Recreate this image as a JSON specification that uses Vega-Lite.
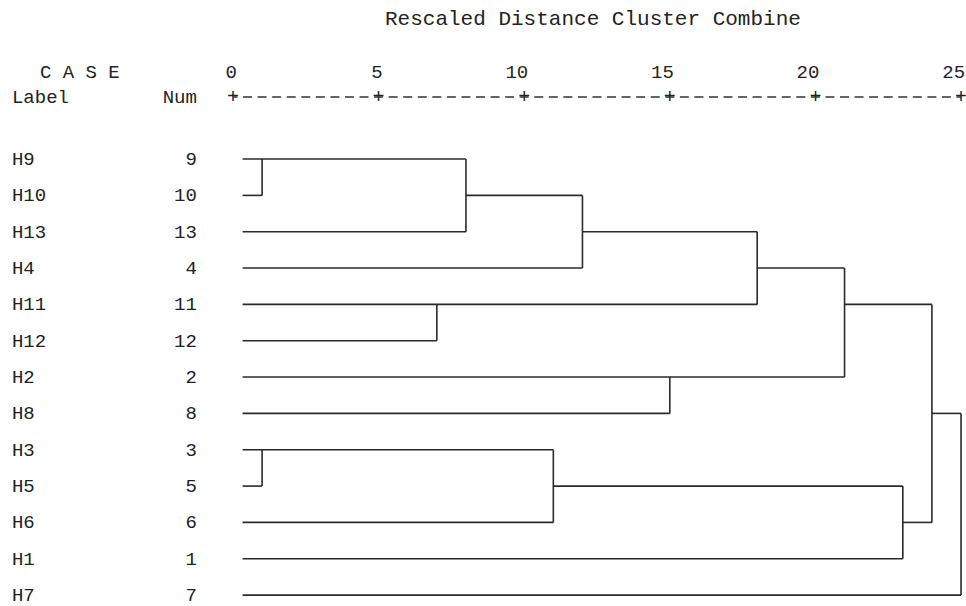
{
  "$schema": "https://vega.github.io/schema/vega-lite/v6.json",
  "width": 966,
  "height": 606,
  "autosize": "none",
  "padding": 0,
  "background": "white",
  "config": {"view": {"stroke": null}},
  "datasets": {
    "segments": [
      {"x": 0.33, "x2": 8, "y": 0, "y2": 0},
      {"x": 0.33, "x2": 1, "y": 1, "y2": 1},
      {"x": 0.33, "x2": 8, "y": 2, "y2": 2},
      {"x": 8, "x2": 12, "y": 1, "y2": 1},
      {"x": 0.33, "x2": 12, "y": 3, "y2": 3},
      {"x": 12, "x2": 18, "y": 2, "y2": 2},
      {"x": 0.33, "x2": 18, "y": 4, "y2": 4},
      {"x": 0.33, "x2": 7, "y": 5, "y2": 5},
      {"x": 18, "x2": 21, "y": 3, "y2": 3},
      {"x": 0.33, "x2": 21, "y": 6, "y2": 6},
      {"x": 0.33, "x2": 15, "y": 7, "y2": 7},
      {"x": 21, "x2": 24, "y": 4, "y2": 4},
      {"x": 0.33, "x2": 11, "y": 8, "y2": 8},
      {"x": 0.33, "x2": 1, "y": 9, "y2": 9},
      {"x": 0.33, "x2": 11, "y": 10, "y2": 10},
      {"x": 11, "x2": 23, "y": 9, "y2": 9},
      {"x": 0.33, "x2": 23, "y": 11, "y2": 11},
      {"x": 23, "x2": 24, "y": 10, "y2": 10},
      {"x": 24, "x2": 25, "y": 7, "y2": 7},
      {"x": 0.33, "x2": 25, "y": 12, "y2": 12},
      {"x": 1, "x2": 1, "y": 0, "y2": 1},
      {"x": 8, "x2": 8, "y": 0, "y2": 2},
      {"x": 12, "x2": 12, "y": 1, "y2": 3},
      {"x": 7, "x2": 7, "y": 4, "y2": 5},
      {"x": 18, "x2": 18, "y": 2, "y2": 4},
      {"x": 15, "x2": 15, "y": 6, "y2": 7},
      {"x": 21, "x2": 21, "y": 3, "y2": 6},
      {"x": 1, "x2": 1, "y": 8, "y2": 9},
      {"x": 11, "x2": 11, "y": 8, "y2": 10},
      {"x": 23, "x2": 23, "y": 9, "y2": 11},
      {"x": 24, "x2": 24, "y": 4, "y2": 10},
      {"x": 25, "x2": 25, "y": 7, "y2": 12}
    ],
    "cases": [
      {"label": "H9", "num": "9", "row": 0},
      {"label": "H10", "num": "10", "row": 1},
      {"label": "H13", "num": "13", "row": 2},
      {"label": "H4", "num": "4", "row": 3},
      {"label": "H11", "num": "11", "row": 4},
      {"label": "H12", "num": "12", "row": 5},
      {"label": "H2", "num": "2", "row": 6},
      {"label": "H8", "num": "8", "row": 7},
      {"label": "H3", "num": "3", "row": 8},
      {"label": "H5", "num": "5", "row": 9},
      {"label": "H6", "num": "6", "row": 10},
      {"label": "H1", "num": "1", "row": 11},
      {"label": "H7", "num": "7", "row": 12}
    ],
    "ticks": [
      {"t": 0, "lab": "0"},
      {"t": 5, "lab": "5"},
      {"t": 10, "lab": "10"},
      {"t": 15, "lab": "15"},
      {"t": 20, "lab": "20"},
      {"t": 25, "lab": "25"}
    ]
  },
  "layer": [
    {
      "data": {"name": "segments"},
      "mark": {"type": "rule", "color": "#2a2a2a", "strokeWidth": 1.6},
      "encoding": {
        "x": {"field": "x", "type": "quantitative", "scale": {"domain": [-8.0, 25.17], "nice": false, "zero": false}, "axis": null},
        "x2": {"field": "x2"},
        "y": {"field": "y", "type": "quantitative", "scale": {"domain": [-4.377, 12.30], "nice": false, "zero": false, "reverse": true}, "axis": null},
        "y2": {"field": "y2"}
      }
    },
    {
      "data": {"name": "cases"},
      "mark": {"type": "text", "align": "left", "baseline": "middle", "font": "Liberation Mono", "fontSize": 19, "color": "#222"},
      "encoding": {
        "x": {"datum": -7.59, "type": "quantitative"},
        "y": {"field": "row", "type": "quantitative"},
        "text": {"field": "label"}
      }
    },
    {
      "data": {"name": "cases"},
      "mark": {"type": "text", "align": "right", "baseline": "middle", "font": "Liberation Mono", "fontSize": 19, "color": "#222"},
      "encoding": {
        "x": {"datum": -1.24, "type": "quantitative"},
        "y": {"field": "row", "type": "quantitative"},
        "text": {"field": "num"}
      }
    },
    {
      "data": {"name": "ticks"},
      "mark": {"type": "text", "align": "right", "baseline": "middle", "dx": 4, "font": "Liberation Mono", "fontSize": 19, "color": "#222"},
      "encoding": {
        "x": {"field": "t", "type": "quantitative"},
        "y": {"datum": -2.395, "type": "quantitative"},
        "text": {"field": "lab"}
      }
    },
    {
      "data": {"name": "ticks"},
      "mark": {"type": "text", "align": "center", "baseline": "middle", "font": "Liberation Mono", "fontSize": 20, "color": "#222"},
      "encoding": {
        "x": {"field": "t", "type": "quantitative"},
        "y": {"datum": -1.707, "type": "quantitative"},
        "text": {"value": "+"}
      }
    },
    {
      "data": {"values": [{}]},
      "mark": {"type": "rule", "color": "#333", "strokeWidth": 1.3, "strokeDash": [9, 5.56], "strokeDashOffset": 4.5},
      "encoding": {
        "x": {"datum": 0, "type": "quantitative"},
        "x2": {"datum": 25},
        "y": {"datum": -1.707, "type": "quantitative"}
      }
    },
    {
      "data": {"values": [{}]},
      "mark": {"type": "text", "align": "left", "baseline": "middle", "font": "Liberation Mono", "fontSize": 19, "color": "#222"},
      "encoding": {
        "x": {"datum": -7.59, "type": "quantitative"},
        "y": {"datum": -1.707, "type": "quantitative"},
        "text": {"value": "Label"}
      }
    },
    {
      "data": {"values": [{}]},
      "mark": {"type": "text", "align": "right", "baseline": "middle", "font": "Liberation Mono", "fontSize": 19, "color": "#222"},
      "encoding": {
        "x": {"datum": -1.24, "type": "quantitative"},
        "y": {"datum": -1.707, "type": "quantitative"},
        "text": {"value": "Num"}
      }
    },
    {
      "data": {"values": [{}]},
      "mark": {"type": "text", "align": "left", "baseline": "middle", "font": "Liberation Mono", "fontSize": 19, "color": "#222"},
      "encoding": {
        "x": {"datum": -6.63, "type": "quantitative"},
        "y": {"datum": -2.395, "type": "quantitative"},
        "text": {"value": "C A S E"}
      }
    },
    {
      "data": {"values": [{}]},
      "mark": {"type": "text", "align": "center", "baseline": "middle", "font": "Liberation Mono", "fontSize": 21, "color": "#222"},
      "encoding": {
        "x": {"datum": 12.36, "type": "quantitative"},
        "y": {"datum": -3.853, "type": "quantitative"},
        "text": {"value": "Rescaled Distance Cluster Combine"}
      }
    }
  ]
}
